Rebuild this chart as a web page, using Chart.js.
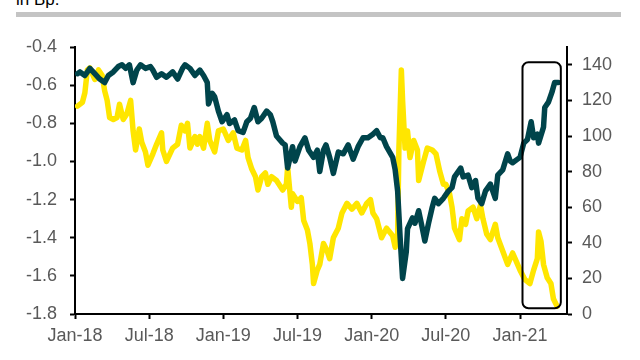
<!DOCTYPE html>
<html lang="de">
<head>
    <meta charset="UTF-8">
    <title>Chart</title>
    <script src="https://cdn.jsdelivr.net/npm/chart.js"></script>
    <style>
        body {
            margin: 0;
            background-color: #fff;
            font-family: Arial, "Liberation Sans", sans-serif;
        }
        .wrap {
            position: relative;
            width: 640px;
            height: 360px;
            overflow: hidden;
        }
        .unit {
            position: absolute;
            left: 16px;
            top: -9px;
            font-size: 17px;
            line-height: 17px;
            color: #000;
        }
        .bar {
            position: absolute;
            left: 16px;
            top: 12px;
            width: 605px;
            height: 5px;
            background-color: #c4c4c4;
        }
        canvas {
            position: absolute;
            left: 0;
            top: 0;
        }
    </style>
</head>
<body>
    <div class="wrap">
        <div class="unit">in Bp.</div>
        <div class="bar"></div>
        <canvas id="chart" width="640" height="360"></canvas>
    </div>

    <script>
        // x = Monate seit Jan-18
        const xTicks = [0, 6, 12, 18, 24, 30, 36];
        const xLabels = ['Jan-18', 'Jul-18', 'Jan-19', 'Jul-19', 'Jan-20', 'Jul-20', 'Jan-21'];
        const leftTicks = [-1.8, -1.6, -1.4, -1.2, -1.0, -0.8, -0.6, -0.4];
        const rightTicks = [0, 20, 40, 60, 80, 100, 120, 140];

        // dunkle Linie (rechte Achse, Bp.)
        const darkT = [0.2, 0.4, 0.8, 1.2, 1.6, 2.0, 2.4, 2.7, 3.1, 3.5, 3.8, 4.1, 4.4, 4.7, 5.0, 5.3, 5.7, 6.1, 6.3, 6.6,
            7.0, 7.4, 7.9, 8.3, 8.7, 8.9, 9.3, 9.7, 10.1, 10.4, 10.7, 10.8, 11.1, 11.3, 11.6, 11.9, 12.3, 12.5, 12.9, 13.2,
            13.6, 13.9, 14.2, 14.5, 14.8, 15.1, 15.5, 15.8, 16.0, 16.3, 16.8, 17.0, 17.2, 17.6, 17.8, 18.2, 18.6, 18.9, 19.3, 19.6,
            19.8, 20.1, 20.3, 20.6, 20.9, 21.3, 21.7, 22.1, 22.5, 22.9, 23.3, 23.7, 24.1, 24.4, 24.7, 24.9, 25.2, 25.7, 25.9, 26.1,
            26.3, 26.5, 26.8, 26.9, 27.3, 27.5, 27.8, 28.1, 28.3, 28.6, 28.9, 29.1, 29.4, 29.8, 30.2, 30.5, 30.7, 31.2, 31.4, 31.8,
            32.1, 32.4, 32.6, 32.9, 33.2, 33.6, 34.0, 34.2, 34.6, 35.0, 35.2, 35.4, 35.8, 36.0, 36.3, 36.6, 36.9, 37.1, 37.4, 37.5,
            37.9, 38.0, 38.3, 38.6, 38.8, 39.1];
        const darkV = [135, 136, 134, 138, 135, 132, 130, 134, 136, 139, 140, 138, 140, 130, 137, 140, 138, 139, 137, 133,
            135, 133, 136, 132, 138, 140, 138, 134, 137, 134, 130, 118, 124, 122, 114, 108, 112, 107, 109, 103,
            102, 108, 110, 116, 108, 110, 114, 112, 108, 100, 96, 95, 82, 94, 86, 94, 99, 92, 88, 92,
            80, 92, 95, 88, 79, 91, 90, 95, 87, 94, 99, 99, 101, 103, 99, 99, 94, 88, 81, 69,
            43, 20, 35, 48, 54, 51, 58, 48, 41, 51, 60, 65, 62, 65, 69, 71, 77, 82, 77, 78,
            71, 75, 65, 62, 69, 73, 65, 78, 81, 90, 86, 85, 87, 88, 96, 98, 108, 99, 101, 96,
            105, 116, 119, 125, 130, 130];

        // gelbe Linie (linke Achse)
        const yellowT = [0.2, 0.6, 0.8, 1.0, 1.2, 1.6, 1.9, 2.2, 2.4, 2.6, 2.8, 3.1, 3.4, 3.6, 3.9, 4.2, 4.5, 4.7, 4.9, 5.2,
            5.4, 5.7, 5.9, 6.3, 6.6, 7.0, 7.1, 7.4, 7.9, 8.3, 8.6, 8.9, 9.1, 9.3, 9.7, 9.9, 10.1, 10.4, 10.7, 10.9,
            11.3, 11.6, 12.0, 12.4, 12.8, 13.1, 13.5, 13.8, 14.0, 14.3, 14.6, 14.8, 15.1, 15.4, 15.6, 15.9, 16.3, 16.8, 17.1, 17.2,
            17.5, 17.6, 18.0, 18.3, 18.5, 18.8, 19.0, 19.2, 19.3, 19.6, 19.8, 20.1, 20.4, 20.6, 20.9, 21.3, 21.6, 22.0, 22.4, 22.8,
            23.2, 23.6, 23.9, 24.1, 24.4, 24.8, 25.2, 25.7, 25.9, 26.1, 26.2, 26.4, 26.5, 26.7, 26.9, 27.1, 27.4, 27.7, 27.8, 28.2,
            28.5, 28.9, 29.2, 29.5, 29.8, 30.0, 30.3, 30.5, 30.7, 31.1, 31.3, 31.6, 31.8, 32.2, 32.5, 32.8, 33.0, 33.3, 33.6, 34.0,
            34.2, 34.6, 35.0, 35.4, 35.6, 36.0, 36.4, 36.8, 37.1, 37.4, 37.5, 37.7, 37.9, 38.2, 38.5, 38.7, 39.0];
        const yellowV = [-0.71, -0.69, -0.64, -0.52, -0.51, -0.57, -0.52, -0.55, -0.63, -0.68, -0.77, -0.78, -0.77, -0.70, -0.78, -0.75, -0.68, -0.84, -0.94, -0.83,
            -0.90, -0.95, -1.02, -0.96, -0.91, -0.85, -0.94, -1.00, -0.93, -0.91, -0.81, -0.84, -0.80, -0.93, -0.87, -0.91, -0.87, -0.93, -0.80, -0.89,
            -0.95, -0.84, -0.83, -0.89, -0.85, -0.93, -0.94, -0.89, -0.98, -1.04, -1.08, -1.15, -1.08, -1.06, -1.12, -1.08, -1.10, -1.15, -1.12, -1.03,
            -1.24, -1.17, -1.21, -1.19, -1.31, -1.36, -1.43, -1.54, -1.64, -1.57, -1.54, -1.43, -1.47, -1.51, -1.40, -1.35, -1.27, -1.22, -1.25, -1.22,
            -1.27, -1.22, -1.20, -1.27, -1.30, -1.40, -1.35, -1.39, -1.45, -1.38, -0.94, -0.52, -0.68, -0.93, -0.84, -0.98, -0.89, -0.94, -1.10, -1.00,
            -0.93, -0.94, -0.96, -1.05, -1.12, -1.12, -1.17, -1.24, -1.35, -1.41, -1.30, -1.33, -1.26, -1.24, -1.30, -1.23, -1.30, -1.38, -1.41, -1.33,
            -1.40, -1.47, -1.54, -1.48, -1.51, -1.57, -1.62, -1.64, -1.57, -1.51, -1.37, -1.42, -1.54, -1.61, -1.64, -1.72, -1.76];

        // markierter Bereich (Rahmen), in Achsenwerten
        const highlightX = [36.2, 39.3];
        const highlightY = [-0.48, -1.77];

        const axisFont = { family: 'Arial, "Liberation Sans", sans-serif', size: 18 };
        const tickGrey = '#595959';

        const highlightBox = {
            id: 'highlightBox',
            afterDatasetsDraw(chart) {
                const { ctx, scales } = chart;
                const x1 = scales.x.getPixelForValue(highlightX[0]);
                const x2 = scales.x.getPixelForValue(highlightX[1]);
                const y1 = scales.yL.getPixelForValue(highlightY[0]);
                const y2 = scales.yL.getPixelForValue(highlightY[1]);
                ctx.save();
                ctx.strokeStyle = '#000';
                ctx.lineWidth = 2;
                ctx.beginPath();
                ctx.roundRect(x1, y1, x2 - x1, y2 - y1, 6);
                ctx.stroke();
                ctx.restore();
            }
        };

        const ctx = document.getElementById('chart').getContext('2d');
        new Chart(ctx, {
            type: 'line',
            data: {
                datasets: [
                    {
                        label: 'dunkel',
                        data: darkT.map((t, i) => ({ x: t, y: darkV[i] })),
                        yAxisID: 'yR',
                        borderColor: '#00444b',
                        borderWidth: 5.5,
                        pointRadius: 0,
                        tension: 0,
                        borderJoinStyle: 'round',
                        borderCapStyle: 'round'
                    },
                    {
                        label: 'gelb',
                        data: yellowT.map((t, i) => ({ x: t, y: yellowV[i] })),
                        yAxisID: 'yL',
                        borderColor: '#ffe600',
                        borderWidth: 5.5,
                        pointRadius: 0,
                        tension: 0,
                        borderJoinStyle: 'round',
                        borderCapStyle: 'round'
                    }
                ]
            },
            options: {
                responsive: false,
                animation: false,
                layout: { padding: { top: 47, left: 0, right: 0, bottom: 0 } },
                plugins: {
                    legend: { display: false },
                    tooltip: { enabled: false }
                },
                scales: {
                    x: {
                        type: 'linear',
                        min: 0,
                        max: 39.8,
                        afterBuildTicks: (s) => { s.ticks = xTicks.map(v => ({ value: v })); },
                        afterFit: (s) => { s.height = 46; },
                        grid: { drawOnChartArea: false, drawTicks: true, tickLength: 5, tickColor: '#000', tickWidth: 2 },
                        border: { display: true, color: '#000', width: 2 },
                        ticks: {
                            color: tickGrey,
                            font: axisFont,
                            padding: 6,
                            maxRotation: 0,
                            callback: (v) => xLabels[xTicks.indexOf(v)]
                        }
                    },
                    yL: {
                        position: 'left',
                        min: -1.8,
                        max: -0.4,
                        afterBuildTicks: (s) => { s.ticks = leftTicks.map(v => ({ value: v })); },
                        afterFit: (s) => { s.width = 75; },
                        grid: { drawOnChartArea: false, drawTicks: true, tickLength: 5, tickColor: '#000', tickWidth: 2 },
                        border: { display: true, color: '#000', width: 2 },
                        ticks: {
                            color: tickGrey,
                            font: axisFont,
                            padding: 13,
                            callback: (v) => v.toFixed(1)
                        }
                    },
                    yR: {
                        position: 'right',
                        min: 0,
                        max: 150,
                        afterBuildTicks: (s) => { s.ticks = rightTicks.map(v => ({ value: v })); },
                        afterFit: (s) => { s.width = 73; },
                        grid: { drawOnChartArea: false, drawTicks: true, tickLength: 5, tickColor: '#000', tickWidth: 2 },
                        border: { display: true, color: '#000', width: 2 },
                        ticks: {
                            color: tickGrey,
                            font: axisFont,
                            padding: 10
                        }
                    }
                }
            },
            plugins: [highlightBox]
        });
    </script>
</body>
</html>
